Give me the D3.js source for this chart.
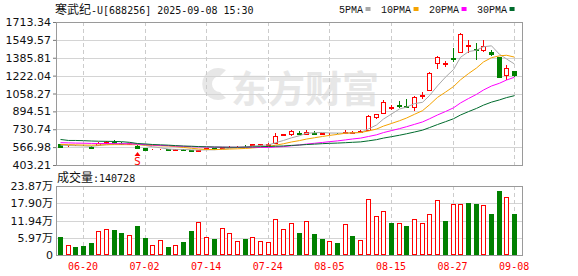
<!DOCTYPE html>
<html lang="zh">
<head>
<meta charset="UTF-8">
<title>寒武纪-U 日K</title>
<script src="https://cdn.jsdelivr.net/npm/d3@7"></script>
<style>
    body { margin: 0; background: #fff; }
    svg { display: block; }
    .hgrid { stroke: #d4d4d4; shape-rendering: crispEdges; }
    .vgrid { stroke: #cccccc; stroke-dasharray: 4,3; shape-rendering: crispEdges; }
    .frame { fill: none; stroke: #9a9a9a; shape-rendering: crispEdges; }
</style>
</head>
<body>
<svg id="chart" width="578" height="276"></svg>
<script>
// trading days shown
const dates = ["06-17","06-18","06-19","06-20","06-23","06-24","06-25","06-26","06-27","06-30",
    "07-01","07-02","07-03","07-04","07-07","07-08","07-09","07-10","07-11","07-14",
    "07-15","07-16","07-17","07-18","07-21","07-22","07-23","07-24","07-25","07-28",
    "07-29","07-30","07-31","08-01","08-04","08-05","08-06","08-07","08-08","08-11",
    "08-12","08-13","08-14","08-15","08-18","08-19","08-20","08-21","08-22","08-25",
    "08-26","08-27","08-28","08-29","09-01","09-02","09-03","09-04","09-05","09-08"];

const openP = [593,576,577,584,572,592,604,613,607,598,578,559,544,543,550,542,548,537,526,551,
    556,560,567,568,582,583,585,586,603,678,687,698,690,700,690,688,692,695,700,705,
    724,841,880,925,950,948,937,1030,1084,1335,1330,1385,1435,1495,1465,1460,1438,1390,1230,1260];
const highP = [597,584,585,588,575,612,624,632,610,606,582,561,550,550,552,550,552,540,540,560,
    560,570,574,576,590,598,600,602,699,690,720,712,724,716,700,698,700,728,718,726,
    858,870,999,953,990,1008,1038,1075,1251,1402,1360,1477,1617,1548,1518,1548,1455,1395,1320,1268];
const lowP = [566,572,573,578,556,588,600,598,592,594,560,540,538,538,542,538,540,520,522,548,
    548,556,563,565,568,580,582,583,598,665,672,686,684,688,685,682,685,690,694,698,
    720,825,870,907,922,930,900,1008,1082,1280,1305,1350,1425,1427,1365,1440,1400,1202,1180,1212];
const closeP = [569,580,581,580,560,606,617,604,596,603,563,543,548,547,545,547,543,528,537,556,
    551,566,571,572,578,594,596,597,669,684,715,693,708,694,695,692,688,706,706,712,
    856,868,980,935,944,940,1029,1040,1243,1390,1340,1375,1601,1505,1455,1495,1420,1210,1295,1222];

// moving averages as drawn
const ma5 = [585,582,580,578,574,581.4,588.8,593.4,596.6,605.2,596.6,581.8,570.6,560.8,549.2,546,546,542,540,542.2,
    543,547.6,556.2,563.2,567.6,576.2,582.2,587.4,606.8,628,652.2,671.6,693.8,698.8,701,696.4,695.4,695,697.4,700.8,
    733.6,769.6,824.4,870.2,916.6,933.4,965.6,977.6,1039.2,1128.4,1208.4,1277.6,1389.8,1442.2,1455.2,1486.2,1495.2,1417,1375,1328.4];
const ma10 = [592,590,588,586,585,587,589,590,590,589.6,589,585.3,582,578.7,577.2,571.3,563.9,556.3,550.4,545.7,
    544.5,546.8,549.1,551.6,554.9,559.6,564.9,571.8,585,597.8,614.2,626.9,640.6,652.8,664.5,674.3,683.5,694.4,698.1,700.9,
    715,732.5,759.7,783.8,808.7,833.5,867.6,901,954.7,1022.5,1070.9,1121.6,1183.7,1240.7,1291.8,1347.3,1386.4,1403.4,1408.6,1391.8];
const ma20 = [608,606,604,603,601,600,600,599,598,597,594,590,586,583,580,577,574,571,569,567.7,
    566.8,566,565.6,565.2,566,565.5,564.4,564,567.7,571.8,579.4,586.9,594.9,602.2,609.7,617,624.2,633.1,641.6,649.4,
    664.6,679.7,700.2,718.3,736.6,753.9,775.6,797.7,826.4,861.7,893,927,971.7,1012.3,1050.3,1090.4,1127,1152.2,1181.7,1207.2];
const ma30 = [637,628,628,626,623,621,620,619,617,611,600,596,591,588,585,581,577,575,572,570,
    568,567,566,566,567,569,571,573,575,577.7,582.6,586.3,590.6,594.4,598.9,601.7,604.1,607.5,611.2,614.8,
    624.6,635.4,649.8,662.7,676,689.1,705.3,722.4,745.9,773.7,800,827,861.3,892.4,921.7,951.7,979.2,999.6,1020.5,1038.4];

// volume (lots) and its colour: 1 = up (red), 0 = down (green)
const volume = [63000,35000,28000,31000,43000,83000,90000,86000,77000,69000,
    101000,59000,35000,51000,28000,35000,45000,84000,115000,63000,
    56000,93000,77000,49000,56000,63000,49000,45000,125000,90000,
    112000,76000,116000,72000,54000,47000,40000,106000,64000,52000,
    192000,134000,151000,109000,112000,102000,126000,112000,141000,190000,
    116000,178000,178000,179000,176000,172000,142000,222000,199000,140728];
const volUp = [0,1,0,0,0,1,1,0,0,1, 0,0,1,1,0,1,0,0,1,1, 0,1,1,1,0,1,1,1,1,1,
    1,0,1,0,0,1,0,1,0,1, 1,1,1,0,1,0,1,1,1,1, 0,1,1,0,0,1,0,0,1,0];

const priceTicks = [403.21,566.98,730.74,894.51,1058.27,1222.04,1385.81,1549.57,1713.34];
const priceTickLabels = ["403.21","566.98","730.74","894.51","1058.27","1222.04","1385.81","1549.57","1713.34"];
const volTicks = [0,59675,119350,179025,238700];
const volTickLabels = ["0","5.97万","11.94万","17.90万","23.87万"];
const xTickLabels = ["06-20","07-02","07-14","07-24","08-05","08-15","08-27","09-08"];

const maNames = ["5PMA","10PMA","20PMA","30PMA"];
const maColors = ["#a8a8a8","#f5a300","#ff00ff","#006b2d"];
const maSeries = [ma5, ma10, ma20, ma30];

const signalIndex = 10;   // "S" marker day

const RED = "#ff0000", GREEN = "#008000";

const svg = d3.select("#chart");

// panels
const left = 56, right = 522;
const pTop = 22, pBottom = 165;
const vTop = 186, vBottom = 255;

const x = d3.scaleBand().domain(dates).range([left, 518]).paddingInner(0.33).paddingOuter(0.165);
const cx = d => Math.round(x(d) + x.bandwidth() / 2) + 0.5;
const y = d3.scaleLinear().domain([403.21, 1713.34]).range([pBottom, pTop]);
const yv = d3.scaleLinear().domain([0, 238700]).range([vBottom, vTop]);

// watermark
const wm = svg.append("g").attr("fill", "#e7e7e7");
wm.append("path")
  .attr("d", "M226,70 A16,16 0 1 0 226,98 L220,92 A8,8 0 1 1 220,76 Z")
  .attr("fill", "#e7e7e7");
wm.append("text")
  .attr("x", 231).attr("y", 103)
  .style("font-family", "'Noto Sans CJK SC', sans-serif")
  .style("font-size", "37px").style("font-weight", "700")
  .text("东方财富");

// grids
svg.append("g").selectAll("line")
  .data(priceTicks.slice(1, -1))
  .join("line").attr("class", "hgrid")
  .attr("x1", left).attr("x2", right)
  .attr("y1", d => Math.round(y(d)) + 0.5).attr("y2", d => Math.round(y(d)) + 0.5);

svg.append("g").selectAll("line")
  .data(volTicks.slice(1, -1))
  .join("line").attr("class", "hgrid")
  .attr("x1", left).attr("x2", right)
  .attr("y1", d => Math.round(yv(d)) + 0.5).attr("y2", d => Math.round(yv(d)) + 0.5);

const tickDates = dates.filter(d => xTickLabels.includes(d));
[[pTop, pBottom], [vTop, vBottom]].forEach(([a, b]) => {
    svg.append("g").selectAll("line")
      .data(tickDates)
      .join("line").attr("class", "vgrid")
      .attr("x1", cx).attr("x2", cx)
      .attr("y1", a).attr("y2", b);
});

// frames
svg.append("rect").attr("class", "frame")
  .attr("x", left + 0.5).attr("y", pTop + 0.5)
  .attr("width", right - left).attr("height", pBottom - pTop);
svg.append("rect").attr("class", "frame")
  .attr("x", left + 0.5).attr("y", vTop + 0.5)
  .attr("width", right - left).attr("height", vBottom - vTop);

// axes
const yAxis = svg.append("g")
  .attr("transform", `translate(${left},0)`)
  .call(d3.axisLeft(y).tickValues(priceTicks).tickFormat((d, i) => priceTickLabels[i]).tickSize(3).tickPadding(2));
yAxis.select(".domain").remove();
yAxis.selectAll("line").attr("stroke", "#777");
yAxis.selectAll("text").attr("fill", "#111")
  .style("font-family", "'DejaVu Sans', sans-serif").style("font-size", "11px");

const vAxis = svg.append("g")
  .attr("transform", `translate(${left},0)`)
  .call(d3.axisLeft(yv).tickValues(volTicks).tickFormat((d, i) => volTickLabels[i]).tickSize(0).tickPadding(3));
vAxis.select(".domain").remove();
vAxis.selectAll("text").attr("fill", "#111")
  .style("font-family", "'DejaVu Sans', 'Noto Sans CJK SC', sans-serif").style("font-size", "11px");

const xAxis = svg.append("g")
  .attr("transform", `translate(0,${vBottom})`)
  .call(d3.axisBottom(x).tickValues(tickDates).tickSize(0).tickPadding(8));
xAxis.select(".domain").remove();
xAxis.selectAll("text").attr("fill", RED)
  .style("font-family", "'DejaVu Sans Mono', monospace").style("font-size", "10px");

// candles
svg.append("clipPath").attr("id", "pclip")
  .append("rect").attr("x", left + 1).attr("y", pTop + 1)
  .attr("width", right - left - 1).attr("height", pBottom - pTop - 1);

const bodyW = Math.round(x.bandwidth()) - 1;
const candles = svg.append("g").attr("clip-path", "url(#pclip)")
  .selectAll("g").data(dates).join("g");

candles.append("line")
  .attr("x1", cx).attr("x2", cx)
  .attr("y1", (d, i) => y(highP[i])).attr("y2", (d, i) => y(lowP[i]))
  .attr("stroke", (d, i) => closeP[i] >= openP[i] ? RED : GREEN)
  .attr("shape-rendering", "crispEdges");

candles.append("rect")
  .attr("x", d => cx(d) - (bodyW + 1) / 2 + 0.5)
  .attr("y", (d, i) => Math.round(y(Math.max(openP[i], closeP[i]))) + 0.5)
  .attr("width", bodyW)
  .attr("height", (d, i) => Math.max(0, Math.round(Math.abs(y(openP[i]) - y(closeP[i])))))
  .attr("fill", (d, i) => closeP[i] >= openP[i] ? "#fff" : GREEN)
  .attr("stroke", (d, i) => closeP[i] >= openP[i] ? RED : GREEN)
  .attr("shape-rendering", "crispEdges");

// moving averages
maSeries.forEach((s, k) => {
    svg.append("path")
      .datum(s)
      .attr("clip-path", "url(#pclip)")
      .attr("fill", "none")
      .attr("stroke", maColors[k])
      .attr("stroke-width", 1)
      .attr("d", d3.line().x((v, i) => cx(dates[i])).y(v => y(v)));
});

// "S" marker
const sx = cx(dates[signalIndex]);
svg.append("path")
  .attr("d", `M${sx - 3},156 L${sx},152 L${sx + 3},156 Z`)
  .attr("fill", RED);
svg.append("text")
  .attr("x", sx).attr("y", 164.5).attr("text-anchor", "middle")
  .attr("fill", RED)
  .style("font-family", "'DejaVu Sans', sans-serif").style("font-size", "10px")
  .text("S");

// volume bars
svg.append("g").selectAll("rect")
  .data(dates).join("rect")
  .attr("x", d => cx(d) - (bodyW + 1) / 2 + 0.5)
  .attr("y", (d, i) => Math.round(yv(volume[i])) + 0.5)
  .attr("width", bodyW)
  .attr("height", (d, i) => vBottom - Math.round(yv(volume[i])) - 1)
  .attr("fill", (d, i) => volUp[i] ? "#fff" : GREEN)
  .attr("stroke", (d, i) => volUp[i] ? RED : GREEN)
  .attr("shape-rendering", "crispEdges");

// title
const title = svg.append("text").attr("x", 55).attr("y", 14).attr("fill", "#111");
title.append("tspan")
  .style("font-family", "'Noto Sans CJK SC', sans-serif").style("font-size", "12px")
  .text("寒武纪");
title.append("tspan")
  .style("font-family", "'DejaVu Sans Mono', monospace").style("font-size", "10px")
  .text("-U[688256] 2025-09-08 15:30");

// volume label
const vl = svg.append("text").attr("x", 57).attr("y", 182).attr("fill", "#111");
vl.append("tspan")
  .style("font-family", "'Noto Sans CJK SC', sans-serif").style("font-size", "12px")
  .text("成交量");
vl.append("tspan")
  .style("font-family", "'DejaVu Sans Mono', monospace").style("font-size", "10px")
  .text(":" + volume[volume.length - 1]);

// legend
let lx = 339;
maNames.forEach((name, k) => {
    const t = svg.append("text")
      .attr("x", lx).attr("y", 12.5).attr("fill", "#111")
      .style("font-family", "'Liberation Mono', monospace").style("font-size", "10px")
      .text(name);
    const w = t.node().getComputedTextLength();
    svg.append("rect")
      .attr("x", lx + w + 2.5).attr("y", 7)
      .attr("width", 5).attr("height", 4)
      .attr("fill", maColors[k]);
    lx += w + 18;
});
</script>
</body>
</html>
